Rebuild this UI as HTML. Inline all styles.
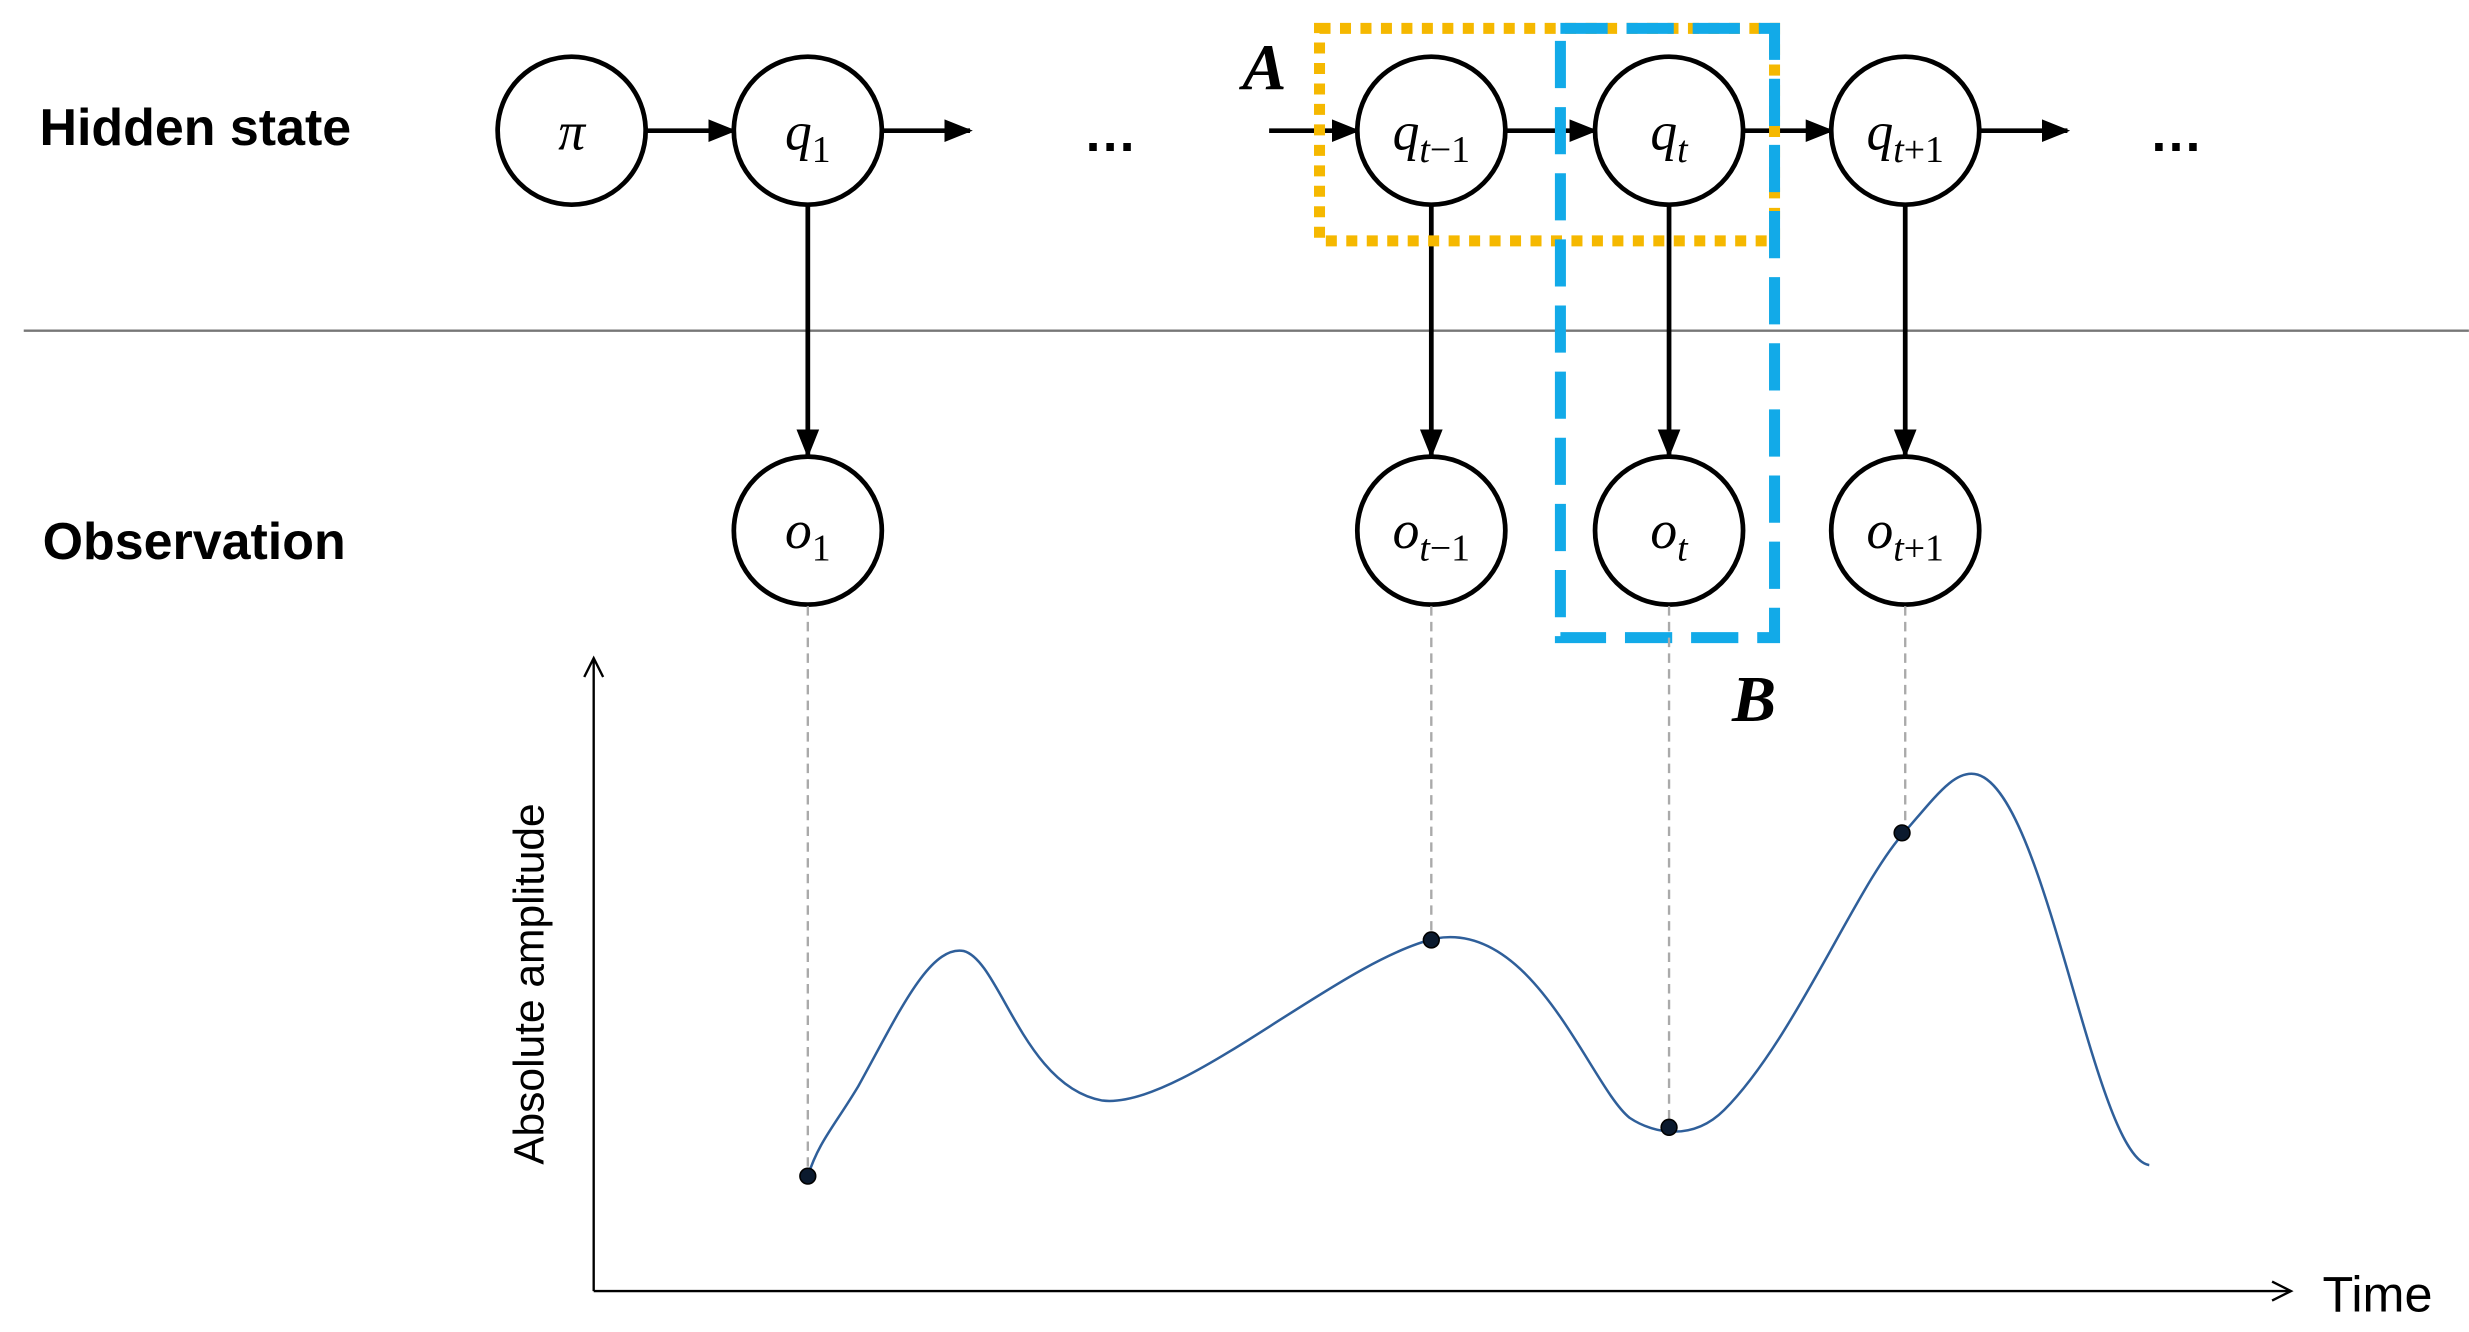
<!DOCTYPE html>
<html><head><meta charset="utf-8"><style>html,body{margin:0;padding:0;background:#fff}svg{display:block}</style></head>
<body>
<svg width="2469" height="1332" viewBox="0 0 1568 846" xmlns="http://www.w3.org/2000/svg">
<defs>
<marker id="ah" viewBox="0 0 10 10" refX="9" refY="5" markerWidth="6" markerHeight="6" orient="auto"><path d="M0,1 L10,5 L0,9 z" fill="#000"/></marker>
</defs>
<rect width="1568" height="846" fill="#fff"/>
<g font-family="Liberation Sans, sans-serif" font-weight="bold" font-size="33" fill="#000">
<text x="25" y="92">Hidden state</text>
<text x="27" y="355">Observation</text>
</g>
<line x1="15" y1="210" x2="1568" y2="210" stroke="#777" stroke-width="1.5"/>
<g stroke="#000" stroke-width="3" fill="none" marker-end="url(#ah)">
<line x1="411" y1="83" x2="466" y2="83"/>
<line x1="561" y1="83" x2="616" y2="83"/>
<line x1="806" y1="83" x2="862" y2="83"/>
<line x1="957" y1="83" x2="1013" y2="83"/>
<line x1="1108" y1="83" x2="1163" y2="83"/>
<line x1="1258" y1="83" x2="1313" y2="83"/>
<line x1="513" y1="131" x2="513" y2="289"/>
<line x1="909" y1="131" x2="909" y2="289"/>
<line x1="1060" y1="131" x2="1060" y2="289"/>
<line x1="1210" y1="131" x2="1210" y2="289"/>
</g>
<g stroke="#000" stroke-width="3" fill="#fff">
<circle cx="363" cy="83" r="47"/><circle cx="513" cy="83" r="47"/><circle cx="909" cy="83" r="47"/><circle cx="1060" cy="83" r="47"/><circle cx="1210" cy="83" r="47"/>
<circle cx="513" cy="337" r="47"/><circle cx="909" cy="337" r="47"/><circle cx="1060" cy="337" r="47"/><circle cx="1210" cy="337" r="47"/>
</g>
<g font-family="Liberation Serif, serif" font-style="italic" font-size="34" fill="#000" text-anchor="middle">
<text x="363" y="95">π</text>
<text x="513" y="95">q<tspan font-style="normal" font-size="24" dy="8">1</tspan></text>
<text x="909" y="95">q<tspan font-size="24" dy="8">t</tspan><tspan font-style="normal" font-size="24">−1</tspan></text>
<text x="1060" y="95">q<tspan font-size="24" dy="8">t</tspan></text>
<text x="1210" y="95">q<tspan font-size="24" dy="8">t</tspan><tspan font-style="normal" font-size="24">+1</tspan></text>
<text x="513" y="348">o<tspan font-style="normal" font-size="24" dy="8">1</tspan></text>
<text x="909" y="348">o<tspan font-size="24" dy="8">t</tspan><tspan font-style="normal" font-size="24">−1</tspan></text>
<text x="1060" y="348">o<tspan font-size="24" dy="8">t</tspan></text>
<text x="1210" y="348">o<tspan font-size="24" dy="8">t</tspan><tspan font-style="normal" font-size="24">+1</tspan></text>
</g>
<g font-family="Liberation Sans, sans-serif" font-weight="bold" font-size="34" fill="#000" text-anchor="middle">
<text x="705" y="96">…</text><text x="1382" y="96">…</text>
</g>
<rect x="838" y="18" width="289" height="135" fill="none" stroke="#F5B800" stroke-width="7" stroke-dasharray="7,6"/>
<rect x="991" y="18" width="136" height="387" fill="none" stroke="#12AAE8" stroke-width="7" stroke-dasharray="30,12"/>
<g font-family="Liberation Serif, serif" font-style="italic" font-weight="bold" font-size="42" fill="#000">
<text x="789" y="57">A</text><text x="1100" y="458">B</text>
</g>
<g stroke="#aaa" stroke-width="1.5" stroke-dasharray="6,4">
<line x1="513" y1="385" x2="513" y2="747"/>
<line x1="909" y1="385" x2="909" y2="597"/>
<line x1="1060" y1="385" x2="1060" y2="716"/>
<line x1="1210" y1="385" x2="1210" y2="529"/>
</g>
<g stroke="#000" stroke-width="1.5" fill="none">
<line x1="377" y1="820" x2="377" y2="418"/>
<line x1="377" y1="820" x2="1455" y2="820"/>
<path d="M371,430 L377,418 L383,430"/>
<path d="M1443,814 L1455,820 L1443,826"/>
</g>
<text x="345" y="625" transform="rotate(-90 345 625)" font-family="Liberation Sans, sans-serif" font-size="27" text-anchor="middle">Absolute amplitude</text>
<text x="1475" y="833" font-family="Liberation Sans, sans-serif" font-size="32">Time</text>
<path d="M513,747 C520,725 530,715 545,690 C570,645 590,600 612,604 C635,610 650,690 700,699 C750,705 850,610 912,596 C975,585 1010,690 1035,710 C1050,720 1075,725 1095,705 C1140,660 1180,560 1210,528 C1230,505 1242,488 1256,492 C1300,505 1330,735 1365,740" fill="none" stroke="#2F5F9A" stroke-width="1.6"/>
<g fill="#0b1a2e" stroke="#000" stroke-width="1">
<circle cx="513" cy="747" r="5"/><circle cx="909" cy="597" r="5"/><circle cx="1060" cy="716" r="5"/><circle cx="1208" cy="529" r="5"/>
</g>
</svg>
</body></html>
